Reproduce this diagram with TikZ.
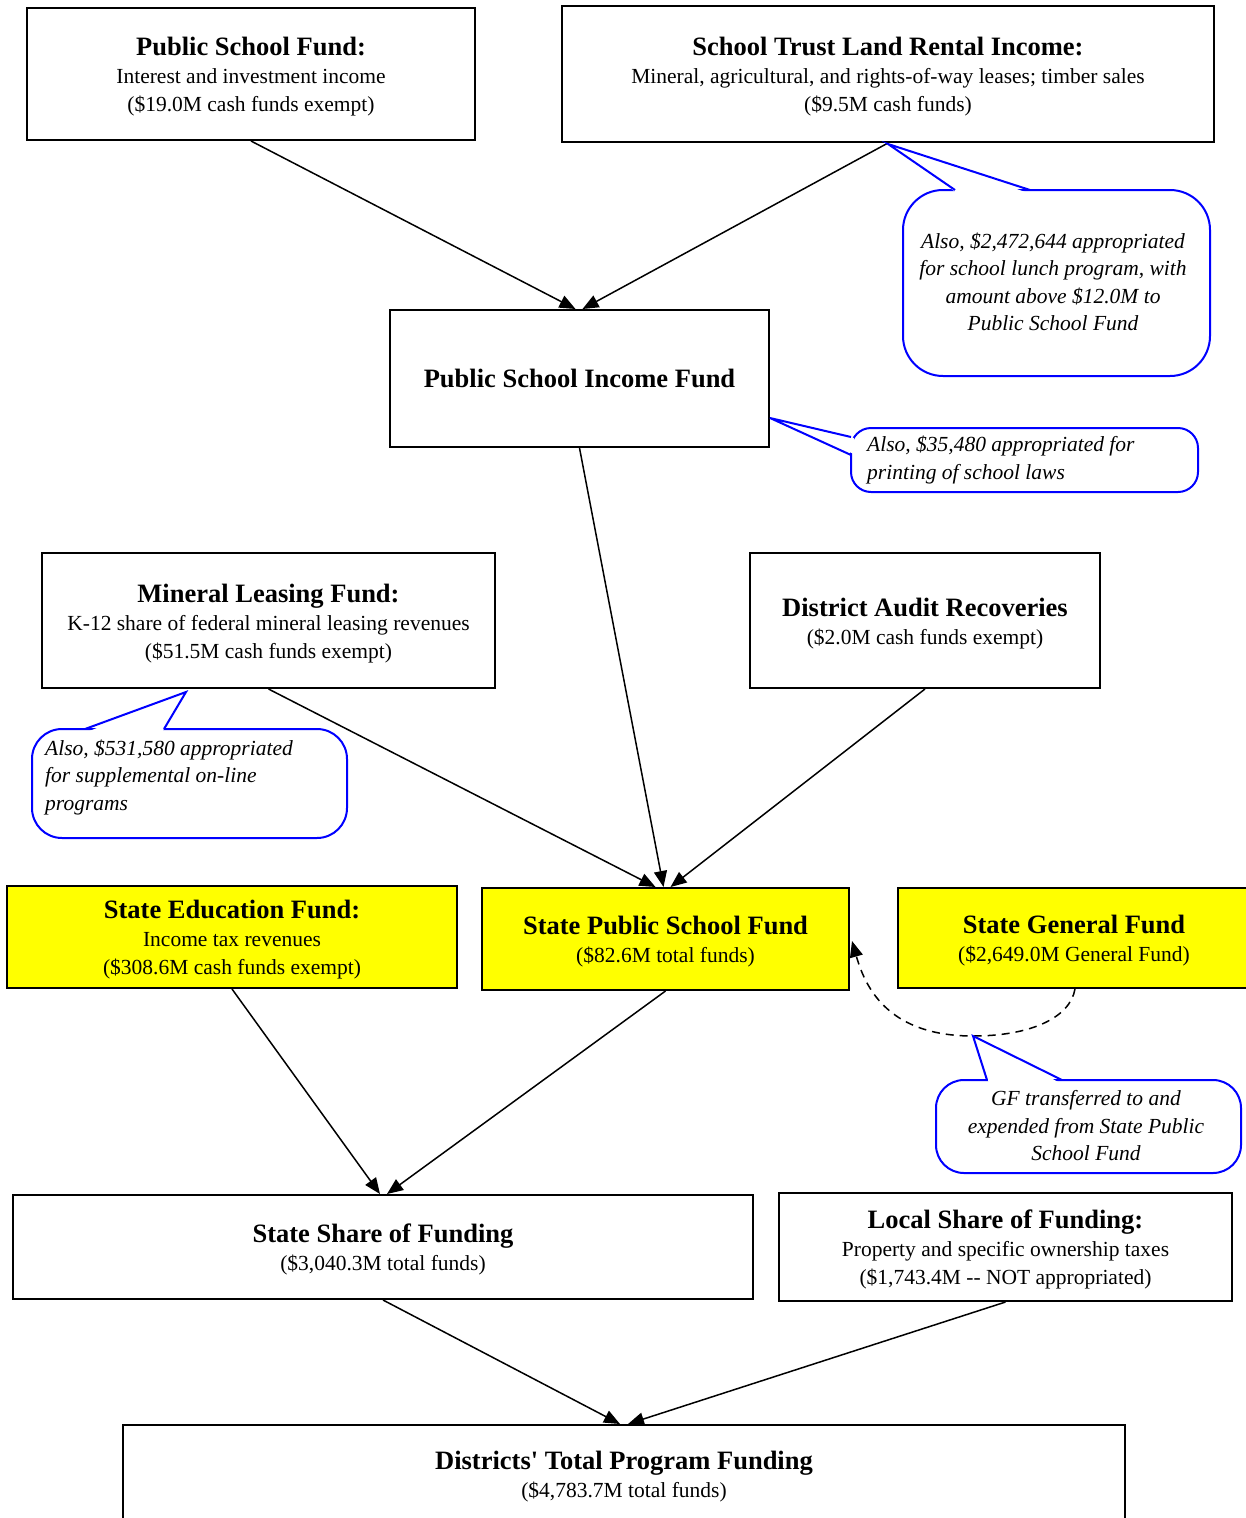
\documentclass[tikz,border=0pt]{standalone}
\usepackage{fontspec}
\setmainfont{Liberation Serif}
\usetikzlibrary{arrows.meta,calc}
\definecolor{fundyellow}{RGB}{255,255,0}
\newcommand{\ttlplain}[1]{{\fontsize{26.5}{31}\selectfont\bfseries #1}}
\newcommand{\ttl}[1]{{\fontsize{26.5}{31}\selectfont\bfseries\rule{0pt}{24pt}#1}}
\begin{document}
\begin{tikzpicture}[x=1pt,y=1pt,
  box/.style={draw, line width=2pt, align=center, inner sep=0pt,
    font=\fontsize{21.5}{28}\selectfont},
  yel/.style={box, fill=fundyellow},
  flow/.style={line width=1.5pt, -{Triangle[length=16pt,width=13pt]}},
  bubble/.style={draw=blue, line width=2pt, fill=white},
  tailfill/.style={fill=white},
  tail/.style={draw=blue, line width=2pt, line join=miter},
  note/.style={font=\fontsize{21.5}{27.5}\selectfont\itshape, inner sep=0pt}]
\useasboundingbox (0,0) rectangle (1246,-1518);
\clip (0,0) rectangle (1246,-1518);
\fill[white] (0,0) rectangle (1246,-1518);

% boxes
\node[box, minimum width=448, minimum height=132] (psf) at (251,-74)
  {\ttl{Public School Fund:}\\Interest and investment income\\(\$19.0M cash funds exempt)};
\node[box, minimum width=652, minimum height=136] (stl) at (888,-74)
  {\ttl{School Trust Land Rental Income:}\\Mineral, agricultural, and rights-of-way leases; timber sales\\(\$9.5M cash funds)};
\node[box, minimum width=379, minimum height=137] (psif) at (579.5,-378.5)
  {\ttlplain{Public School Income Fund}};
\node[box, minimum width=453, minimum height=135] (mlf) at (268.5,-620.5)
  {\ttl{Mineral Leasing Fund:}\\K-12 share of federal mineral leasing revenues\\(\$51.5M cash funds exempt)};
\node[box, minimum width=350, minimum height=135] (dar) at (925,-620.5)
  {\ttl{District Audit Recoveries}\\(\$2.0M cash funds exempt)};
\node[yel, minimum width=450, minimum height=102] (sef) at (232,-937)
  {\ttl{State Education Fund:}\\Income tax revenues\\(\$308.6M cash funds exempt)};
\node[yel, minimum width=367, minimum height=102] (spsf) at (665.5,-939)
  {\ttl{State Public School Fund}\\(\$82.6M total funds)};
\node[yel, minimum width=352, minimum height=100] (sgf) at (1074,-938)
  {\ttl{State General Fund}\\(\$2,649.0M General Fund)};
\node[box, minimum width=740, minimum height=104] (ssf) at (383,-1247)
  {\ttl{State Share of Funding}\\(\$3,040.3M total funds)};
\node[box, minimum width=453, minimum height=108] (lsf) at (1005.5,-1247)
  {\ttl{Local Share of Funding:}\\Property and specific ownership taxes\\(\$1,743.4M -{}- NOT appropriated)};
\node[box, minimum width=1002, minimum height=98] (dtf) at (624,-1474)
  {\ttl{Districts\textquotesingle{} Total Program Funding}\\(\$4,783.7M total funds)};

% flows
\draw[flow] (psf.south) -- ([xshift=-4pt]psif.north);
\draw[flow] (stl.south) -- ([xshift=3pt]psif.north);
\draw[flow] (psif.south) -- ([xshift=-2pt]spsf.north);
\draw[flow] (mlf.south) -- ([xshift=-10pt]spsf.north);
\draw[flow] (dar.south) -- ([xshift=5pt]spsf.north);
\draw[flow] (sef.south) -- ([xshift=-3pt]ssf.north);
\draw[flow] (spsf.south) -- ([xshift=4pt]ssf.north);
\draw[flow] (ssf.south) -- ([xshift=-4pt]dtf.north);
\draw[flow] (lsf.south) -- ([xshift=4pt]dtf.north);

% dashed transfer
\coordinate (dtip) at (973,-1036);
\draw[line width=1.5pt, dash pattern=on 8pt off 6pt, -{Triangle[length=16pt,width=13pt]}]
  ([xshift=1pt]sgf.south) .. controls (1070,-1018) and (1030,-1036) .. (dtip)
  .. controls (890,-1036) and (866,-990) .. ([xshift=2pt,yshift=-2pt]spsf.east);

% callout A
\coordinate (atip) at ([yshift=-1pt]stl.south);
\draw[bubble, rounded corners=40] (903,-190) rectangle (1210,-376);
\fill[tailfill] (957,-193) -- (atip) -- (1028,-193) -- cycle;
\draw[tail] (955,-190) -- (atip) -- (1030,-190);
\node[note, align=center] (na) at (1053,-282)
  {Also, \$2,472,644 appropriated\\for school lunch program, with\\amount above \$12.0M to\\Public School Fund};

% callout B
\coordinate (btip) at (770,-418);
\draw[bubble, rounded corners=20] (851,-428) rectangle (1198,-492);
\fill[tailfill] (854,-438) -- (btip) -- (854,-454) -- cycle;
\draw[tail] (851,-437) -- (btip) -- (851,-455);
\node[note, align=left, anchor=west] (nb) at (867,-460)
  {Also, \$35,480 appropriated for\\printing of school laws};

% callout C
\coordinate (ctip) at (186,-692);
\draw[bubble, rounded corners=30] (32,-729) rectangle (347,-838);
\fill[tailfill] (87,-732) -- (ctip) -- (162,-732) -- cycle;
\draw[tail] (85,-729) -- (ctip) -- (164,-729);
\node[note, align=left, anchor=west] (nc) at (45,-777)
  {Also, \$531,580 appropriated\\for supplemental on-line\\programs};

% callout D
\draw[bubble, rounded corners=28] (936,-1080) rectangle (1241,-1173);
\fill[tailfill] (989,-1083) -- (dtip) -- (1060,-1083) -- cycle;
\draw[tail] (987,-1080) -- (dtip) -- (1062,-1080);
\node[note, align=center] (nd) at (1086,-1126)
  {GF transferred to and\\expended from State Public\\School Fund};
\end{tikzpicture}
\end{document}
